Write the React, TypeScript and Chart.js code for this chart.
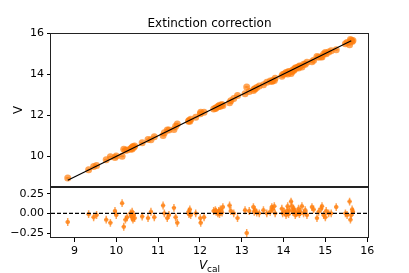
import React, { useEffect, useRef } from "react";
import { Chart, registerables } from "chart.js";
Chart.register(...registerables);

const TITLE = "Extinction correction";
const Y_LABEL = "V";
const X_LABEL_MAIN = "V";
const X_LABEL_SUB = "cal";

const xTicks = [9, 10, 11, 12, 13, 14, 15, 16];
const yTopTicks = [10, 12, 14, 16];
const yBotTicks = [-0.25, 0, 0.25];
const yBotTickLabels = ["\u22120.25", "0.00", "0.25"];

// calibrated magnitudes (x) and residuals V_cal - V (bottom panel)
const vCal = [
  8.84, 9.34, 9.46, 9.53, 9.76, 9.86, 9.97, 10.0, 10.14, 10.18, 10.22, 10.26, 10.34, 10.36,
  10.38, 10.38, 10.4, 10.42, 10.44, 10.62, 10.76, 10.83, 10.91, 11.12, 11.15, 11.22, 11.26,
  11.38, 11.42, 11.46, 11.73, 11.74, 11.76, 11.78, 11.9, 12.01, 12.02, 12.1, 12.33, 12.37,
  12.39, 12.43, 12.45, 12.47, 12.49, 12.53, 12.55, 12.71, 12.74, 12.81, 12.9, 13.08, 13.12,
  13.18, 13.28, 13.3, 13.32, 13.36, 13.42, 13.52, 13.6, 13.68, 13.72, 13.74, 13.78, 13.8,
  13.96, 13.98, 14.02, 14.06, 14.08, 14.1, 14.12, 14.14, 14.18, 14.2, 14.22, 14.24, 14.26,
  14.28, 14.3, 14.34, 14.36, 14.38, 14.4, 14.44, 14.48, 14.52, 14.56, 14.68, 14.72, 14.8,
  14.84, 14.9, 14.92, 14.96, 15.0, 15.02, 15.08, 15.14, 15.26, 15.48, 15.52, 15.58, 15.6,
  15.62, 15.64, 15.66,
];
const resid = [
  -0.11, -0.01, -0.05, -0.02, -0.08, -0.12, 0.03, -0.02, 0.13, -0.17, -0.08, -0.05, 0.0, -0.03,
  0.02, -0.05, -0.08, -0.02, -0.06, -0.04, -0.06, 0.02, -0.05, 0.1, 0.0, -0.06, -0.02,
  0.07, -0.05, -0.12, 0.02, -0.01, 0.05, -0.02, 0.0, -0.06, -0.12, -0.05, 0.03, 0.04,
  0.02, 0.0, 0.03, -0.01, 0.05, 0.01, 0.08, 0.1, 0.03, 0.0, -0.06, 0.04, -0.25,
  0.03, 0.08, 0.02, 0.04, 0.01, 0.0, 0.04, 0.0, 0.02, 0.08, 0.05, 0.09, 0.0,
  0.06, 0.0, 0.02, -0.02, 0.03, 0.09, -0.01, 0.04, 0.15, 0.09, 0.02, 0.06, 0.04,
  -0.02, 0.0, 0.01, 0.06, -0.01, 0.02, 0.09, 0.0, 0.04, -0.02, 0.08, 0.05, -0.06,
  0.02, 0.06, 0.09, -0.02, -0.05, 0.03, 0.0, 0.0, 0.08, 0.0, -0.02, 0.15, -0.08,
  -0.02, 0.05, 0.02,
];
const vObs = vCal.map((x, i) => x - resid[i]);
const oneToOne = [8.84, 15.62];

const ERR_X = 0.05;
const ERR_TOP = 0.05;
const ERR_BOT = 0.05;

const X_MIN = 8.44;
const X_MAX = 16.02;
const TOP_MIN = 8.51;
const TOP_MAX = 16.0;
const BOT_MIN = -0.313;
const BOT_MAX = 0.335;

const ORANGE = "rgba(255,127,14,0.7)";
const FONT = "DejaVu Sans";

const errorBarPlugin = {
  id: "errbars",
  beforeDatasetsDraw(chart: any) {
    const { ctx, chartArea } = chart;
    const xs = chart.scales.x;
    const ys = chart.scales.y;
    ctx.save();
    ctx.beginPath();
    ctx.rect(chartArea.left, chartArea.top, chartArea.right - chartArea.left, chartArea.bottom - chartArea.top);
    ctx.clip();
    chart.data.datasets.forEach((ds: any) => {
      if (!ds.errY) return;
      ctx.strokeStyle = ORANGE;
      ctx.lineWidth = 1.5;
      ds.data.forEach((p: any) => {
        const px = xs.getPixelForValue(p.x);
        const py = ys.getPixelForValue(p.y);
        const y1 = ys.getPixelForValue(p.y - ds.errY);
        const y2 = ys.getPixelForValue(p.y + ds.errY);
        const x1 = xs.getPixelForValue(p.x - ds.errX);
        const x2 = xs.getPixelForValue(p.x + ds.errX);
        ctx.beginPath();
        ctx.moveTo(px, y1);
        ctx.lineTo(px, y2);
        ctx.moveTo(x1, py);
        ctx.lineTo(x2, py);
        ctx.stroke();
      });
    });
    ctx.restore();
  },
};

const framePlugin = {
  id: "frame",
  afterDraw(chart: any) {
    const { ctx, chartArea } = chart;
    const o = chart.options.plugins.frame || {};
    ctx.save();
    ctx.strokeStyle = "#222";
    ctx.lineWidth = 1;
    const l = Math.round(chartArea.left) - 0.5;
    const r = Math.round(chartArea.right) + 0.5;
    const t = Math.round(chartArea.top) + 0.5;
    const b = Math.round(chartArea.bottom) - 0.5;
    ctx.strokeRect(l, t, r - l, b - t);
    if (o.zeroLine) {
      const y = chart.scales.y.getPixelForValue(0);
      ctx.setLineDash([4, 2]);
      ctx.strokeStyle = "#000";
      ctx.lineWidth = 1.2;
      ctx.beginPath();
      ctx.moveTo(chartArea.left, y);
      ctx.lineTo(chartArea.right, y);
      ctx.stroke();
      ctx.setLineDash([]);
    }
    ctx.fillStyle = "#000";
    if (o.title) {
      ctx.font = `12px ${FONT}`;
      ctx.textAlign = "center";
      ctx.textBaseline = "alphabetic";
      ctx.fillText(o.title, (chartArea.left + chartArea.right) / 2, 27);
    }
    if (o.yLabel) {
      ctx.save();
      ctx.translate(21.5, (chartArea.top + chartArea.bottom) / 2 - 0);
      ctx.rotate(-Math.PI / 2);
      ctx.font = `12px ${FONT}`;
      ctx.textAlign = "center";
      ctx.textBaseline = "alphabetic";
      ctx.fillText(o.yLabel, 0, 0);
      ctx.restore();
    }
    if (o.xLabel) {
      ctx.textAlign = "left";
      ctx.textBaseline = "alphabetic";
      ctx.font = `oblique 12px ${FONT}`;
      const w1 = ctx.measureText(o.xLabel[0]).width;
      ctx.font = `9px ${FONT}`;
      const w2 = ctx.measureText(o.xLabel[1]).width;
      const cx = (chartArea.left + chartArea.right) / 2;
      const x0 = cx - (w1 + w2) / 2;
      ctx.font = `oblique 12px ${FONT}`;
      ctx.fillText(o.xLabel[0], x0, 82.3);
      ctx.font = `9px ${FONT}`;
      ctx.fillText(o.xLabel[1], x0 + w1, 85);
    }
    ctx.restore();
  },
};

const tickFont = { size: 11, family: FONT };
const gridOpts = { drawOnChartArea: false, drawTicks: true, tickLength: 4, color: "#000", lineWidth: 1 };

const fitY = (s: any) => {
  s.width = 51;
  s.paddingTop = 0;
  s.paddingBottom = 0;
};
const fitX = (s: any) => {
  s.height = 35;
  s.paddingLeft = 0;
  s.paddingRight = 0;
};

export default function App() {
  const topRef = useRef<HTMLCanvasElement>(null);
  const botRef = useRef<HTMLCanvasElement>(null);

  useEffect(() => {
    const topPts = vCal.map((x, i) => ({ x, y: vObs[i] }));
    const botPts = vCal.map((x, i) => ({ x, y: resid[i] }));

    const top = new Chart(topRef.current!, {
      type: "scatter",
      data: {
        datasets: [
          {
            type: "line",
            data: oneToOne.map((v) => ({ x: v, y: v })),
            borderColor: "#000",
            borderWidth: 1.2,
            pointRadius: 0,
          } as any,
          {
            data: topPts,
            backgroundColor: ORANGE,
            borderWidth: 0,
            pointRadius: 3.5,
            errX: ERR_X,
            errY: ERR_TOP,
          } as any,
        ],
      },
      options: {
        animation: false,
        responsive: false,
        events: [],
        layout: { autoPadding: false, padding: { left: 0, right: 41, top: 33, bottom: 1 } },
        plugins: {
          legend: { display: false },
          tooltip: { enabled: false },
          frame: { title: TITLE, yLabel: Y_LABEL },
        } as any,
        scales: {
          x: { type: "linear", min: X_MIN, max: X_MAX, display: false },
          y: {
            type: "linear",
            min: TOP_MIN,
            max: TOP_MAX,
            afterFit: fitY,
            afterBuildTicks: (s: any) => {
              s.ticks = yTopTicks.map((v) => ({ value: v }));
            },
            ticks: { font: tickFont, color: "#000", padding: 3 },
            grid: gridOpts,
            border: { display: false },
          },
        },
      },
      plugins: [errorBarPlugin, framePlugin],
    });

    const bot = new Chart(botRef.current!, {
      type: "scatter",
      data: {
        datasets: [
          {
            data: botPts,
            backgroundColor: ORANGE,
            borderWidth: 0,
            pointRadius: 2.2,
            errX: ERR_X,
            errY: ERR_BOT,
          } as any,
        ],
      },
      options: {
        animation: false,
        responsive: false,
        events: [],
        layout: { autoPadding: false, padding: { left: 0, right: 41, top: 0, bottom: 0 } },
        plugins: {
          legend: { display: false },
          tooltip: { enabled: false },
          frame: { zeroLine: true, xLabel: [X_LABEL_MAIN, X_LABEL_SUB] },
        } as any,
        scales: {
          x: {
            type: "linear",
            min: X_MIN,
            max: X_MAX,
            afterFit: fitX,
            afterBuildTicks: (s: any) => {
              s.ticks = xTicks.map((v) => ({ value: v }));
            },
            ticks: { font: tickFont, color: "#000", padding: 3, maxRotation: 0 },
            grid: gridOpts,
            border: { display: false },
          },
          y: {
            type: "linear",
            min: BOT_MIN,
            max: BOT_MAX,
            afterFit: fitY,
            afterBuildTicks: (s: any) => {
              s.ticks = yBotTicks.map((v) => ({ value: v }));
            },
            ticks: {
              font: tickFont,
              color: "#000",
              padding: 3,
              callback: (v: any) => {
                const i = yBotTicks.indexOf(Number(v));
                return i >= 0 ? yBotTickLabels[i] : "";
              },
            },
            grid: gridOpts,
            border: { display: false },
          },
        },
      },
      plugins: [errorBarPlugin, framePlugin],
    });

    return () => {
      top.destroy();
      bot.destroy();
    };
  }, []);

  return (
    <div style={{ position: "absolute", left: 0, top: 0, width: 409, height: 273, background: "#fff" }}>
      <canvas ref={topRef} width={409} height={188} style={{ position: "absolute", left: 0, top: 0 }} />
      <canvas ref={botRef} width={409} height={86} style={{ position: "absolute", left: 0, top: 187 }} />
    </div>
  );
}
